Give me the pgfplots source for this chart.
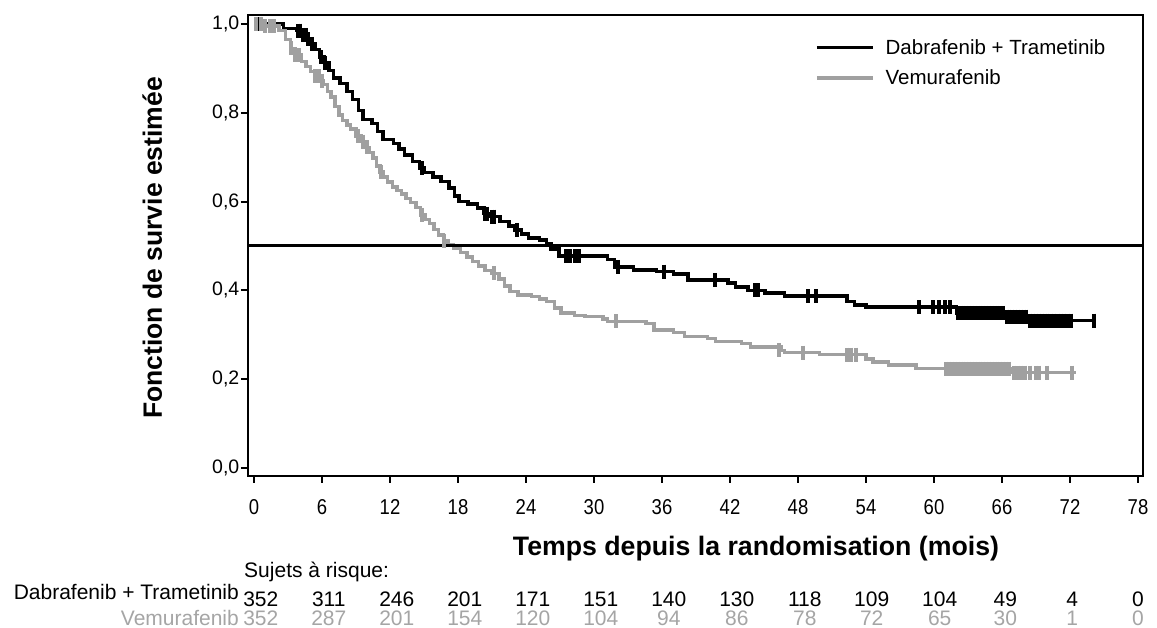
\documentclass[border=0pt]{standalone}
\usepackage{fontspec}
\setmainfont{Liberation Sans}
\newfontfamily\tickfont[FakeStretch=0.86]{Liberation Sans}
\usepackage{pgfplots}
\pgfplotsset{compat=1.18}
\definecolor{kmgray}{RGB}{160,160,160}
\definecolor{txtgray}{RGB}{165,165,165}
\newcommand{\fs}[1]{\fontsize{#1}{#1}\selectfont}

\pgfplotstableread{
t s
0 1.000
2.6 0.990
3.8 0.985
4.3 0.975
4.7 0.965
5.05 0.955
5.4 0.942
5.8 0.925
6.2 0.912
6.6 0.895
7.0 0.878
7.6 0.866
8.2 0.848
8.7 0.830
9.2 0.805
9.6 0.785
10.4 0.776
10.9 0.758
11.4 0.740
12.3 0.731
12.8 0.718
13.3 0.705
14.0 0.690
14.6 0.675
15.0 0.665
15.8 0.655
16.5 0.645
17.2 0.630
17.7 0.612
18.1 0.600
18.9 0.594
19.7 0.585
20.3 0.573
20.8 0.566
21.7 0.555
22.5 0.545
23.0 0.536
23.6 0.527
24.2 0.518
25.2 0.513
25.8 0.505
26.2 0.493
26.9 0.477
31.2 0.470
31.8 0.453
33.5 0.446
35.5 0.442
37.0 0.437
38.3 0.423
41.8 0.417
42.5 0.408
43.6 0.400
45.1 0.394
46.8 0.387
52.3 0.375
53.0 0.367
54.0 0.362
62.0 0.349
66.2 0.341
68.3 0.332
74.3 0.332
}\dabtab

\pgfplotstableread{
t s
0 1.000
0.8 0.995
2.2 0.985
2.8 0.965
3.2 0.945
3.6 0.930
4.2 0.915
4.6 0.904
5.0 0.893
5.4 0.882
5.8 0.872
6.1 0.863
6.5 0.848
6.8 0.835
7.15 0.814
7.5 0.795
7.8 0.782
8.2 0.772
8.5 0.763
9.0 0.748
9.5 0.735
9.9 0.722
10.2 0.710
10.5 0.698
10.8 0.680
11.1 0.666
11.4 0.655
11.8 0.644
12.2 0.633
12.6 0.625
13.0 0.617
13.4 0.607
13.8 0.598
14.3 0.586
14.7 0.570
15.1 0.560
15.5 0.550
15.9 0.537
16.3 0.525
16.7 0.512
17.1 0.503
17.6 0.495
18.2 0.485
18.8 0.475
19.3 0.465
19.8 0.455
20.4 0.445
21.0 0.438
21.6 0.425
22.1 0.410
22.6 0.397
23.3 0.390
24.5 0.386
25.2 0.381
25.8 0.375
26.5 0.360
27.1 0.349
28.3 0.343
29.2 0.341
30.8 0.335
31.2 0.330
34.6 0.325
35.3 0.311
37.0 0.305
38.0 0.296
40.0 0.292
40.7 0.285
43.0 0.280
43.8 0.273
46.5 0.265
46.8 0.260
49.9 0.255
54.0 0.245
54.6 0.239
56.0 0.232
58.4 0.224
66.9 0.215
72.5 0.215
}\vemtab

\pgfplotstableread{
t s
0.3 1.000
0.5 1.000
3.9 0.985
4.1 0.985
4.35 0.975
4.55 0.975
4.8 0.965
5.1 0.955
5.9 0.925
6.3 0.912
14.8 0.675
20.4 0.573
20.6 0.573
21.0 0.566
21.2 0.566
23.2 0.536
27.5 0.477
27.9 0.477
28.3 0.477
28.7 0.477
32.1 0.453
36.2 0.442
40.7 0.423
44.2 0.400
44.5 0.400
48.9 0.387
49.6 0.387
58.7 0.362
59.9 0.362
60.4 0.362
61.0 0.362
61.4 0.362
62.1 0.349
62.35 0.349
62.6 0.349
62.85 0.349
63.1 0.349
63.35 0.349
63.6 0.349
63.85 0.349
64.1 0.349
64.35 0.349
64.6 0.349
64.85 0.349
65.1 0.349
65.35 0.349
65.6 0.349
65.85 0.349
66.1 0.349
66.4 0.341
66.65 0.341
66.9 0.341
67.15 0.341
67.4 0.341
67.65 0.341
67.9 0.341
68.15 0.341
68.5 0.332
68.75 0.332
69.0 0.332
69.25 0.332
69.5 0.332
69.75 0.332
70.0 0.332
70.3 0.332
70.6 0.332
70.9 0.332
71.2 0.332
71.5 0.332
71.8 0.332
72.1 0.332
74.1 0.332
}\dabcens

\pgfplotstableread{
t s
0.2 1.000
0.6 1.000
1.0 0.995
1.4 0.995
1.8 0.995
3.3 0.945
3.65 0.930
3.95 0.930
5.4 0.882
5.7 0.882
6.0 0.872
9.2 0.748
9.6 0.735
9.95 0.722
11.2 0.666
14.8 0.570
16.8 0.512
21.2 0.438
31.9 0.330
46.3 0.265
48.4 0.260
52.3 0.255
52.7 0.255
53.1 0.255
61.1 0.224
61.35 0.224
61.6 0.224
61.85 0.224
62.1 0.224
62.35 0.224
62.6 0.224
62.85 0.224
63.1 0.224
63.35 0.224
63.6 0.224
63.85 0.224
64.1 0.224
64.35 0.224
64.6 0.224
64.85 0.224
65.1 0.224
65.35 0.224
65.6 0.224
65.85 0.224
66.1 0.224
66.35 0.224
66.6 0.224
67.1 0.215
67.4 0.215
67.7 0.215
68.0 0.215
68.5 0.215
69.0 0.215
69.3 0.215
70.0 0.215
72.2 0.215
}\vemcens

\pgfplotstableread{
t s n
0.6 -0.3108 352
6.6 -0.3108 311
12.6 -0.3108 246
18.6 -0.3108 201
24.6 -0.3108 171
30.6 -0.3108 151
36.6 -0.3108 140
42.6 -0.3108 130
48.6 -0.3108 118
54.5 -0.3108 109
60.5 -0.3108 104
66.3 -0.3108 49
72.2 -0.3108 4
78.0 -0.3108 0
}\riskdab

\pgfplotstableread{
t s n
0.6 -0.3547 352
6.6 -0.3547 287
12.6 -0.3547 201
18.6 -0.3547 154
24.6 -0.3547 120
30.6 -0.3547 104
36.6 -0.3547 94
42.6 -0.3547 86
48.6 -0.3547 78
54.5 -0.3547 72
60.5 -0.3547 65
66.3 -0.3547 30
72.2 -0.3547 1
78.0 -0.3547 0
}\riskvem

\begin{document}
\begin{tikzpicture}
\useasboundingbox (0,0) rectangle (1157pt,628pt);
\begin{axis}[
  scale only axis,
  width=895pt, height=461pt,
  at={(248pt,152pt)}, anchor=south west,
  xmin=-0.53, xmax=78.44, ymin=-0.018, ymax=1.020,
  xtick={0,6,12,18,24,30,36,42,48,54,60,66,72,78},
  ytick={0,0.2,0.4,0.6,0.8,1},
  xtick pos=bottom, ytick pos=left,
  tick align=outside,
  major tick length=7pt,
  tick style={line width=2pt, black},
  axis line style={line width=2.5pt},
  clip=false,
  /pgf/number format/assume math mode=true,
  /pgf/number format/use comma,
  yticklabel style={font=\fs{19.5}, inner sep=1.5pt,
    /pgf/number format/fixed, /pgf/number format/fixed zerofill,
    /pgf/number format/precision=1},
  xticklabel style={font=\tickfont\fs{21.5}, yshift=-13pt},
  xlabel={\textbf{Temps depuis la randomisation (mois)}},
  xlabel style={font=\fs{26.7}, at={(rel axis cs:0.5676,-0.1735)}, anchor=base},
  ylabel={\textbf{Fonction de survie estimée}},
  ylabel style={font=\fs{26.5}, at={(rel axis cs:-0.0961,0.4946)}, anchor=base},
  legend style={font=\fs{20.5}, draw=none, fill=none, inner sep=0pt,
    row sep=10pt, column sep=9pt, cells={anchor=west},
    at={(rel axis cs:0.6335,0.952)}, anchor=north west},
  legend cell align=left,
  legend image code/.code={\draw[#1, mark=none] (0pt,0pt) -- (56pt,0pt);},
]
\addplot[black, line width=3.5pt, const plot] table[x=t, y=s] {\dabtab};
\addlegendentry{Dabrafenib + Trametinib}
\addplot[kmgray, line width=3.5pt, const plot] table[x=t, y=s] {\vemtab};
\addlegendentry{Vemurafenib}
\addplot[black, only marks, mark=|, mark size=7pt, mark options={line width=4pt}, forget plot] table[x=t, y=s] {\dabcens};
\addplot[kmgray, only marks, mark=|, mark size=7pt, mark options={line width=4pt}, forget plot] table[x=t, y=s] {\vemcens};
\addplot[black, line width=3pt, forget plot] coordinates {(-0.53,0.5) (78.44,0.5)};
% number at risk
\addplot[only marks, mark=none, forget plot, nodes near coords, point meta=explicit symbolic,
  every node near coord/.style={anchor=base, font=\fs{21}, text=black, inner sep=0pt}]
  table[x=t, y=s, meta=n] {\riskdab};
\addplot[only marks, mark=none, forget plot, nodes near coords, point meta=explicit symbolic,
  every node near coord/.style={anchor=base, font=\fs{21}, text=txtgray, inner sep=0pt}]
  table[x=t, y=s, meta=n] {\riskvem};
\node[anchor=base west, font=\fs{21}, inner sep=0pt] at (axis cs:-0.88,-0.2455) {Sujets à risque:};
\node[anchor=base east, font=\fs{21}, inner sep=0pt] at (axis cs:-1.32,-0.2962) {Dabrafenib + Trametinib};
\node[anchor=base east, font=\fs{21}, inner sep=0pt, text=txtgray] at (axis cs:-1.32,-0.3547) {Vemurafenib};
\end{axis}
\end{tikzpicture}
\end{document}
